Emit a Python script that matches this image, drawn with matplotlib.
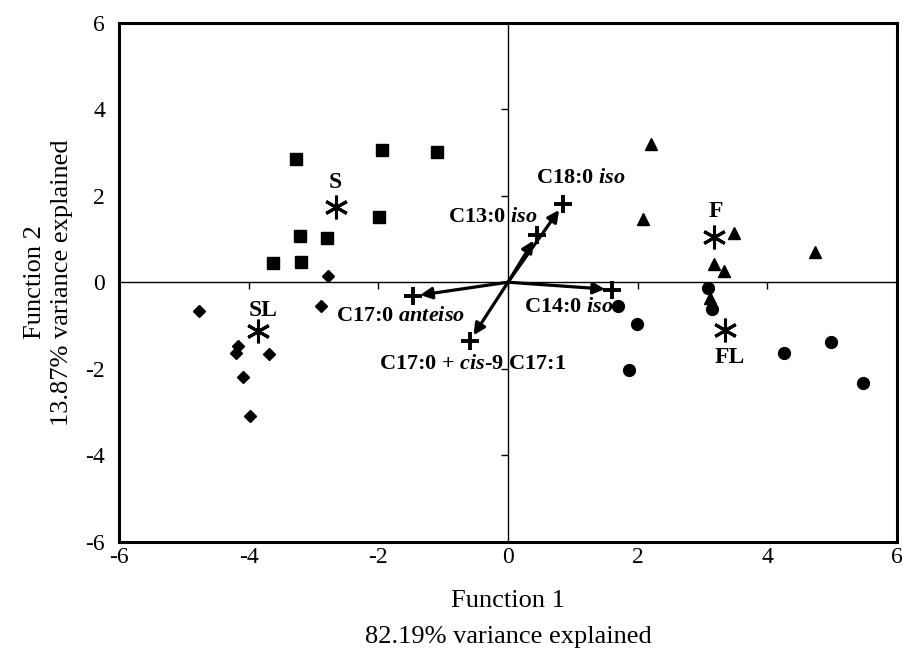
import numpy as np
import matplotlib
matplotlib.use("Agg")
import matplotlib.pyplot as plt

plt.rcParams['font.family'] = ['Liberation Serif', 'DejaVu Serif']
plt.rcParams['axes.unicode_minus'] = False
plt.rcParams['mathtext.fontset'] = 'custom'
plt.rcParams['mathtext.rm'] = 'Liberation Serif:bold'
plt.rcParams['mathtext.it'] = 'Liberation Serif:italic:bold'

# group scores
s_x = [-3.27, -1.95, -1.10, -1.99, -3.21, -2.79, -3.63, -3.20]
s_y = [2.84, 3.05, 3.00, 1.50, 1.06, 1.02, 0.45, 0.47]
sl_x = [-4.77, -4.17, -4.19, -3.68, -4.09, -3.98, -2.89, -2.78]
sl_y = [-0.66, -1.47, -1.63, -1.66, -2.20, -3.10, -0.55, 0.15]
f_x = [2.21, 2.08, 3.48, 4.74, 3.18, 3.33, 3.12]
f_y = [3.19, 1.46, 1.13, 0.70, 0.42, 0.25, -0.36]
fl_x = [3.09, 3.15, 1.70, 1.99, 1.86, 4.26, 4.98, 5.47]
fl_y = [-0.13, -0.61, -0.55, -0.97, -2.03, -1.63, -1.38, -2.34]

# group centroids
cent_names = ['S', 'SL', 'F', 'FL']
cent_x = [-2.66, -3.86, 3.17, 3.35]
cent_y = [1.74, -1.13, 1.05, -1.11]
cent_lab_x = [-2.67, -3.77, 3.20, 3.42]
cent_lab_y = [2.30, -0.65, 1.63, -1.74]

# fatty acid vectors
fa_labels = [r'C18:0 $\mathit{iso}$', r'C13:0 $\mathit{iso}$', r'C14:0 $\mathit{iso}$',
             r'C17:0 $\mathit{anteiso}$', r'C17:0 + $\mathit{cis}$-9 C17:1']
fa_x = [0.85, 0.45, 1.60, -1.46, -0.59]
fa_y = [1.80, 1.10, -0.17, -0.32, -1.36]
fa_lab_x = [0.43, -0.93, 0.25, -2.66, -1.99]
fa_lab_y = [2.40, 1.51, -0.57, -0.78, -1.88]

fig = plt.figure(figsize=(9.02, 6.54), dpi=100)
pos = [0.1319, 0.1717, 0.8626, 0.7936]
ax = fig.add_axes(pos)

ax.plot(s_x, s_y, 's', color='black', markersize=8, linestyle='none')
ax.plot(sl_x, sl_y, 'D', color='black', markersize=6.5, linestyle='none')
ax.plot(f_x, f_y, '^', color='black', markersize=8.5, linestyle='none')
ax.plot(fl_x, fl_y, 'o', color='black', markersize=8.5, linestyle='none')

ax.plot(cent_x, cent_y, marker=(6, 2, 0), color='black', markersize=17,
        markeredgewidth=2.2, linestyle='none')
for name, x, y in zip(cent_names, cent_lab_x, cent_lab_y):
    ax.text(x, y, name, fontsize=17, fontweight='bold', ha='center', va='center')

for lab, x, y, lx, ly in zip(fa_labels, fa_x, fa_y, fa_lab_x, fa_lab_y):
    ax.annotate('', xy=(x, y), xytext=(0, 0),
                arrowprops=dict(arrowstyle='-|>', color='black', lw=2.3,
                                shrinkA=0, shrinkB=5, mutation_scale=17))
    ax.plot(x, y, '+', color='black', markersize=13, markeredgewidth=2.8)
    ax.text(lx, ly, lab, fontsize=16, fontweight='bold', ha='left', va='center')

ax.set_xlim(-6, 6)
ax.set_ylim(-6, 6)
ax.set_xticks(np.arange(-6, 7, 2))
ax.set_yticks(np.arange(-6, 7, 2))
ax.tick_params(length=0, labelsize=17)
ax.tick_params(axis='x', pad=4)
ax.tick_params(axis='y', pad=10)
for sp in ax.spines.values():
    sp.set_linewidth(2.2)
ax.set_xlabel('Function 1\n82.19% variance explained', fontsize=19, labelpad=16,
              linespacing=1.8)
ax.set_ylabel('Function 2\n13.87% variance explained', fontsize=19, labelpad=9,
              linespacing=1.3)

# cross axes through the origin
ax2 = fig.add_axes(pos, sharex=ax, sharey=ax)
ax2.patch.set_visible(False)
ax2.spines['top'].set_visible(False)
ax2.spines['right'].set_visible(False)
ax2.spines['left'].set_position(('data', 0))
ax2.spines['bottom'].set_position(('data', 0))
ax2.spines['left'].set_linewidth(1)
ax2.spines['bottom'].set_linewidth(1)
ax2.set_zorder(0)
ax.set_zorder(1)
ax.patch.set_visible(False)
ax2.set_xticks([-4, -2, 2, 4])
ax2.set_yticks([-4, -2, 2, 4])
ax2.tick_params(direction='out', length=5, width=1, labelleft=False, labelbottom=False)
ax.set_xticks(np.arange(-6, 7, 2))
ax.set_yticks(np.arange(-6, 7, 2))

fig.savefig('out.png', dpi=100)
